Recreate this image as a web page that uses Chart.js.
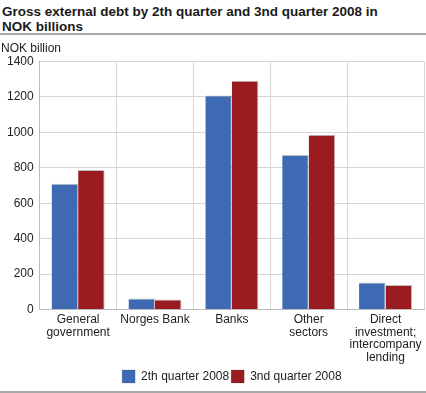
<!DOCTYPE html>
<html>
<head>
<meta charset="utf-8">
<script src="https://cdn.jsdelivr.net/npm/chart.js@4/dist/chart.umd.min.js"></script>
<style>
  body { margin: 0; background: #fff; font-family: "Liberation Sans", Arial, sans-serif; }
  #wrap { width: 426px; height: 393px; position: relative; }
  #title {
    font-weight: bold; font-size: 13.5px; line-height: 15px; color: #1a1a1a;
    padding: 4px 0 0 2px; height: 29px; border-bottom: 2px solid #a8a8a8;
  }
  #box { width: 426px; height: 356px; border-bottom: 2px solid #a8a8a8; }
</style>
</head>
<body>
<div id="wrap">
  <div id="title">Gross external debt by 2th quarter and 3nd quarter 2008 in<br>NOK billions</div>
  <div id="box"><canvas id="myChart"></canvas></div>
</div>
<script>
const categories = [
  ["General", "government"],
  ["Norges Bank"],
  ["Banks"],
  ["Other", "sectors"],
  ["Direct", "investment;", "intercompany", "lending"],
];
const seriesNames = ["2th quarter 2008", "3nd quarter 2008"];
const q2Values = [710, 62, 1207, 872, 153];
const q3Values = [788, 57, 1291, 986, 139];
const yTicks = [0, 200, 400, 600, 800, 1000, 1200, 1400];

const font = { family: "'Liberation Sans', Arial, sans-serif", size: 12 };
const xFont = { family: "'Liberation Sans', Arial, sans-serif", size: 12, lineHeight: 1.05 };

const ctx = document.getElementById("myChart");
new Chart(ctx, {
  type: "bar",
  data: {
    labels: categories,
    datasets: [
      {
        label: seriesNames[0],
        data: q2Values,
        backgroundColor: "#3d6ab3",
        borderColor: "rgba(0,0,0,0.25)",
        borderWidth: { top: 1, right: 1, left: 0, bottom: 0 },
        categoryPercentage: 0.69,
        barPercentage: 1,
      },
      {
        label: seriesNames[1],
        data: q3Values,
        backgroundColor: "#9a1b20",
        borderColor: "rgba(0,0,0,0.25)",
        borderWidth: { top: 1, right: 1, left: 0, bottom: 0 },
        categoryPercentage: 0.69,
        barPercentage: 1,
      },
    ],
  },
  options: {
    responsive: true,
    maintainAspectRatio: false,
    animation: false,
    layout: { padding: { left: 1, right: 2, top: 0, bottom: -2 } },
    plugins: {
      subtitle: {
        display: true,
        text: "NOK billion",
        align: "start",
        color: "#222",
        font: font,
        padding: { top: 6, bottom: 6 },
      },
      legend: {
        position: "bottom",
        fullSize: false,
        labels: {
          color: "#222",
          font: font,
          boxWidth: 13,
          boxHeight: 13,
          padding: 2,
        },
      },
      tooltip: { enabled: false },
    },
    scales: {
      x: {
        grid: { color: "#d6d6d6", drawTicks: false },
        border: { color: "#bbbbbb" },
        ticks: { color: "#222", font: xFont, padding: 4, maxRotation: 0, autoSkip: false },
      },
      y: {
        min: 0,
        max: 1400,
        afterBuildTicks: (axis) => { axis.ticks = yTicks.map((v) => ({ value: v })); },
        grid: { color: "#d6d6d6", drawTicks: false },
        border: { color: "#bbbbbb" },
        ticks: { color: "#222", font: font, padding: 6, callback: (v) => String(v) },
      },
    },
  },
});
</script>
</body>
</html>
